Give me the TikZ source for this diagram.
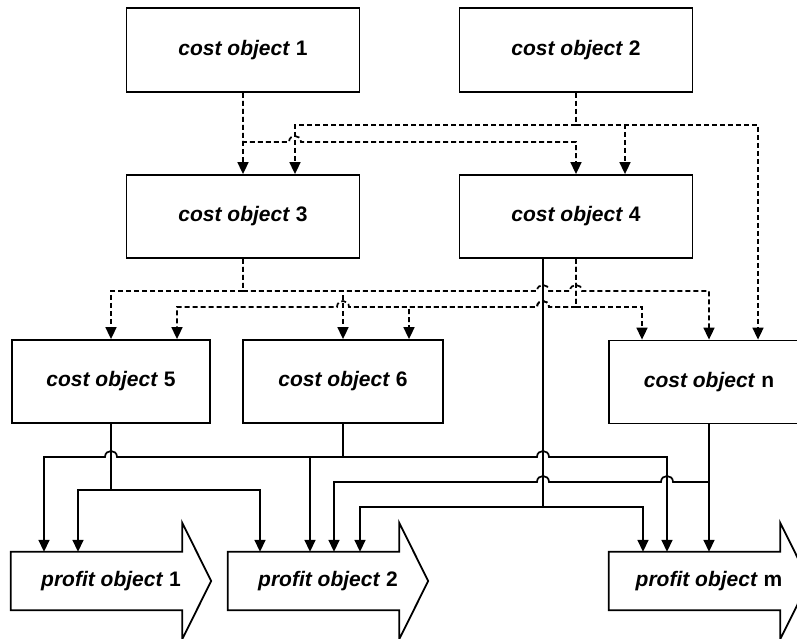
\documentclass[tikz,border=0pt]{standalone}
\usepackage{fontspec}
\setmainfont{Liberation Sans}
\usetikzlibrary{arrows.meta,calc}
\begin{document}
\begin{tikzpicture}[x=1pt,y=-1pt,
  cobox/.style={draw,line width=1.8pt,fill=white,minimum height=83pt,inner sep=0pt,
    font=\fontsize{21}{25}\selectfont\bfseries},
  pobody/.style={minimum width=200pt,minimum height=58pt,inner sep=0pt,
    font=\fontsize{21}{25}\selectfont\bfseries},
  poline/.style={draw,line width=1.8pt,fill=white,line join=miter},
  dl/.style={line width=1.7pt,dash pattern=on 5pt off 3pt},
  sl/.style={line width=1.7pt},
  arr/.style={-{Triangle[length=12pt,width=11pt]}}]
\useasboundingbox (0,0) rectangle (797,639);
\clip (0,0) rectangle (797,639);

% cost objects
\node[cobox,minimum width=233pt,minimum height=84pt] (co1) at (243,50) {\textit{cost object} 1};
\node[cobox,minimum width=233pt,minimum height=84pt] (co2) at (576,50) {\textit{cost object} 2};
\node[cobox,minimum width=233pt] (co3) at (243,216.5) {\textit{cost object} 3};
\node[cobox,minimum width=233pt] (co4) at (576,216.5) {\textit{cost object} 4};
\node[cobox,minimum width=198pt] (co5) at (111,381.5) {\textit{cost object} 5};
\node[cobox,minimum width=200pt] (co6) at (343,381.5) {\textit{cost object} 6};
\node[cobox,minimum width=200pt] (con) at (709,382) {\textit{cost object} n};

% profit objects
\foreach \n/\cx in {po1/111,po2/328,pom/709}{
  \node[pobody] (\n) at (\cx,581) {};
  \draw[poline] (\n.north west) -- ([xshift=-29pt]\n.north east)
    -- ([xshift=-29pt,yshift=29pt]\n.north east) -- (\n.east)
    -- ([xshift=-29pt,yshift=-29pt]\n.south east) -- ([xshift=-29pt]\n.south east)
    -- (\n.south west) -- cycle;
}
\node[pobody] at (po1) {\textit{profit object} 1};
\node[pobody] at (po2) {\textit{profit object} 2};
\node[pobody] at (pom) {\textit{profit object} m};

% cost object 1
\draw[dl,arr] (co1.south) -- (co3.north);
\draw[dl,arr] (co1.south) -- (243,142) -- (289,142) .. controls +(0,-8) and +(0,-8) .. (301,142)
  -- (576,142) -- (co4.north);

% cost object 2
\draw[dl,arr] (co2.south) |- (295,125) -- (295,0 |- co3.north);
\draw[dl,arr] (co2.south) |- (625,125) -- (625,0 |- co4.north);
\draw[dl,arr] (co2.south) |- (758,125) -- (758,0 |- con.north);

% cost object 3
\draw[dl,arr] (co3.south) |- (111,291) -- (111,0 |- co5.north);
\draw[dl,arr] (co3.south) |- (343,291) -- (343,0 |- co6.north);
\draw[dl,arr] (co3.south) -- (243,291) -- (537,291) .. controls +(0,-8) and +(0,-8) .. (549,291)
  -- (570,291) .. controls +(0,-8) and +(0,-8) .. (582,291) -- (709,291) -- (con.north);

% cost object 4 (dashed)
\draw[dl,arr] (co4.south) -- (576,307) -- (549,307) .. controls +(0,-8) and +(0,-8) .. (537,307)
  -- (349,307) .. controls +(0,-8) and +(0,-8) .. (337,307) -- (177,307) -- (177,0 |- co5.north);
\draw[dl,arr] (co4.south) -- (576,307) -- (549,307) .. controls +(0,-8) and +(0,-8) .. (537,307)
  -- (409,307) -- (409,0 |- co6.north);
\draw[dl,arr] (co4.south) |- (642,307) -- (642,0 |- con.north);

% cost object 4 (solid)
\draw[sl,arr] ([xshift=-33pt]co4.south) |- (360,507) -- (360,0 |- po2.north);
\draw[sl,arr] ([xshift=-33pt]co4.south) |- (643,507) -- (643,0 |- pom.north);

% cost object 5
\draw[sl,arr] (co5.south) |- (78,490) -- (78,0 |- po1.north);
\draw[sl,arr] (co5.south) |- (260,490) -- (260,0 |- po2.north);

% cost object 6
\draw[sl,arr] (co6.south) -- (343,457) -- (117,457) .. controls +(0,-8) and +(0,-8) .. (105,457)
  -- (44,457) -- (44,0 |- po1.north);
\draw[sl,arr] (co6.south) |- (310,457) -- (310,0 |- po2.north);
\draw[sl,arr] (co6.south) -- (343,457) -- (537,457) .. controls +(0,-8) and +(0,-8) .. (549,457)
  -- (667,457) -- (667,0 |- pom.north);

% cost object n
\draw[sl,arr] (con.south) -- (pom.north);
\draw[sl,arr] (con.south) -- (709,482) -- (673,482) .. controls +(0,-8) and +(0,-8) .. (661,482)
  -- (549,482) .. controls +(0,-8) and +(0,-8) .. (537,482) -- (334,482) -- (334,0 |- po2.north);
\end{tikzpicture}
\end{document}
